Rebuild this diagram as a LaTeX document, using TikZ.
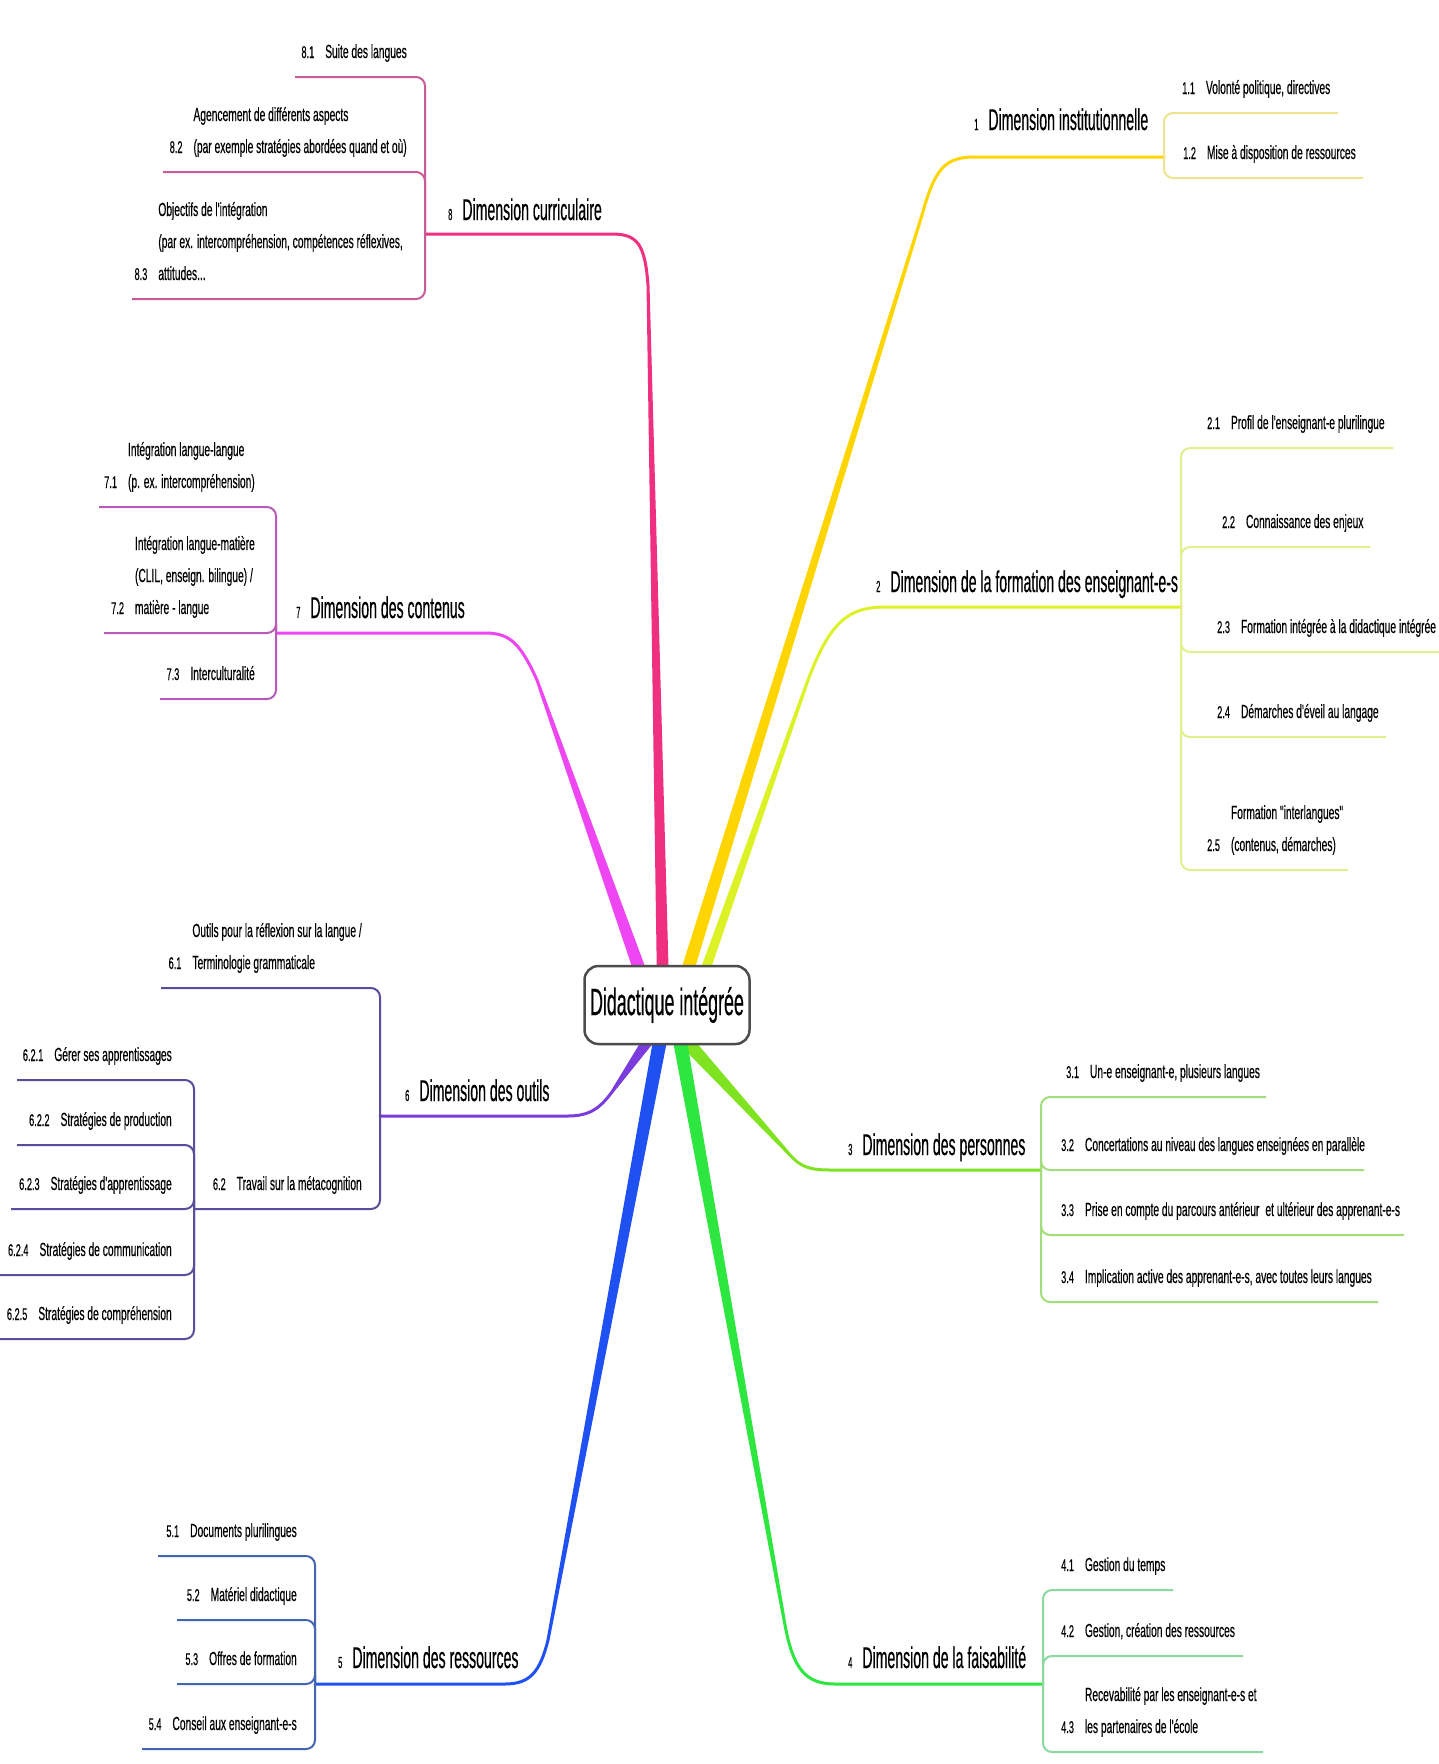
\documentclass[tikz,border=0pt]{standalone}
\usepackage{fontspec}
\setmainfont{Liberation Sans}
\newfontfamily\mainf[FakeStretch=0.47,FakeBold=0.4]{Liberation Sans}
\newfontfamily\subf[FakeStretch=0.54,FakeBold=0.3]{Liberation Sans}
\usetikzlibrary{calc}
\definecolor{c8}{HTML}{EF2F80}
\definecolor{c1}{HTML}{FFD500}
\definecolor{c2}{HTML}{DDF226}
\definecolor{c3}{HTML}{80E322}
\definecolor{c4}{HTML}{2DE640}
\definecolor{c5}{HTML}{1F50F2}
\definecolor{c6}{HTML}{7A3CDD}
\definecolor{c7}{HTML}{EE46F2}
\definecolor{l8}{HTML}{C95B97}
\definecolor{l1}{HTML}{EFE38E}
\definecolor{l2}{HTML}{E2EF8C}
\definecolor{l3}{HTML}{A2DF7A}
\definecolor{l4}{HTML}{8BD9A0}
\definecolor{l5}{HTML}{4466B2}
\definecolor{l6}{HTML}{5A4E9C}
\definecolor{l7}{HTML}{B65BB8}
\newcommand\taper[5]{\fill[#1] ($(#2)!#4!90:(#3)$) -- ($(#3)!#5!-90:(#2)$) -- ($(#3)!#5!90:(#2)$) -- ($(#2)!#4!-90:(#3)$) -- cycle;}
\newcommand\itm[1]{\begin{tabular}[b]{@{}l@{\hspace{11pt}}l@{}}#1\end{tabular}}
\newcommand\snum[1]{{\fontsize{17}{17}\selectfont #1}}
\newcommand\mnum[1]{{\fontsize{16}{16}\selectfont #1}\hspace{10pt}}
\tikzset{
  mainlab/.style={anchor=base west, inner sep=0pt, font=\mainf\fontsize{30}{32}\selectfont},
  subR/.style={anchor=base west, inner sep=0pt, font=\subf\fontsize{19}{32}\selectfont},
  subL/.style={anchor=base east, inner sep=0pt, font=\subf\fontsize{19}{32}\selectfont},
  subline/.style={line width=2pt, rounded corners=9pt},
  mainline/.style={line width=3pt, line cap=round},
  centre/.style={draw=black!70, line width=2.5pt, fill=white, rounded corners=14pt,
    minimum width=165pt, minimum height=78pt, inner sep=4pt,
    font=\mainf\fontsize{38}{40}\selectfont}
}
\begin{document}
\begin{tikzpicture}[x=1pt,y=-1pt]
\fill[white] (0,0) rectangle (1439,1764);
\useasboundingbox (0,0) rectangle (1439,1764);

% ---------- branch 8 ----------
\coordinate (a8) at (663,985); \coordinate (b8) at (648,285); \coordinate (j8) at (425,234);
\taper{c8}{a8}{b8}{6pt}{1.5pt}
\draw[mainline,c8] (b8) .. controls (645,245) and (638,234) .. (612,234) -- (j8);
\node[mainlab] (m8) at (448,220) {\mnum{8}Dimension curriculaire};
\coordinate (e81) at (295,77); \coordinate (e82) at (163,172); \coordinate (e83) at (132,299);
\draw[subline,l8] (j8) |- (e81); \draw[subline,l8] (j8) |- (e82); \draw[subline,l8] (j8) |- (e83);
\node[subL] (n81) at (407,58) {\itm{\snum{8.1} & Suite des langues}};
\node[subL] (n82) at (407,153) {\itm{ & Agencement de différents aspects\\ \snum{8.2} & (par exemple stratégies abordées quand et où)}};
\node[subL] (n83) at (403,280) {\itm{ & Objectifs de l'intégration\\ & (par ex. intercompréhension, compétences réflexives,\\ \snum{8.3} & attitudes...}};

% ---------- branch 1 ----------
\coordinate (a1) at (683,985); \coordinate (b1) at (922,215); \coordinate (j1) at (1164,157);
\taper{c1}{a1}{b1}{6.5pt}{1.5pt}
\draw[mainline,c1] (b1) .. controls (935,168) and (945,157) .. (975,157) -- (j1);
\node[mainlab] (m1) at (974,130) {\mnum{1}Dimension institutionnelle};
\coordinate (e11) at (1338,113); \coordinate (e12) at (1363,178);
\draw[subline,l1] (j1) |- (e11); \draw[subline,l1] (j1) |- (e12);
\node[subR] (n11) at (1182,94) {\itm{\snum{1.1} & Volonté politique, directives}};
\node[subR] (n12) at (1183,159) {\itm{\snum{1.2} & Mise à disposition de ressources}};

% ---------- branch 2 ----------
\coordinate (a2) at (700,985); \coordinate (b2) at (808,680); \coordinate (j2) at (1181,607);
\taper{c2}{a2}{b2}{5pt}{1.5pt}
\draw[mainline,c2] (b2) .. controls (830,622) and (848,607) .. (885,607) -- (j2);
\node[mainlab] (m2) at (876,592) {\mnum{2}Dimension de la formation des enseignant-e-s};
\coordinate (e21) at (1393,448); \coordinate (e22) at (1370,547); \coordinate (e23) at (1439,652);
\coordinate (e24) at (1386,737); \coordinate (e25) at (1348,870);
\foreach \e in {e21,e22,e23,e24,e25} \draw[subline,l2] (j2) |- (\e);
\node[subR] (n21) at (1207,429) {\itm{\snum{2.1} & Profil de l'enseignant-e plurilingue}};
\node[subR] (n22) at (1222,528) {\itm{\snum{2.2} & Connaissance des enjeux}};
\node[subR] (n23) at (1217,633) {\itm{\snum{2.3} & Formation intégrée à la didactique intégrée}};
\node[subR] (n24) at (1217,718) {\itm{\snum{2.4} & Démarches d'éveil au langage}};
\node[subR] (n25) at (1207,851) {\itm{ & Formation "interlangues"\\ \snum{2.5} & (contenus, démarches)}};

% ---------- branch 7 ----------
\coordinate (a7) at (645,985); \coordinate (b7) at (537,680); \coordinate (j7) at (276,633);
\taper{c7}{a7}{b7}{6.5pt}{1.5pt}
\draw[mainline,c7] (b7) .. controls (520,643) and (510,633) .. (485,633) -- (j7);
\node[mainlab] (m7) at (296,618) {\mnum{7}Dimension des contenus};
\coordinate (e71) at (99,507); \coordinate (e72) at (104,633); \coordinate (e73) at (160,699);
\draw[subline,l7] (j7) |- (e71); \draw[subline,l7] (j7) |- (e72); \draw[subline,l7] (j7) |- (e73);
\node[subL] (n71) at (255,488) {\itm{ & Intégration langue-langue\\ \snum{7.1} & (p. ex. intercompréhension)}};
\node[subL] (n72) at (255,614) {\itm{ & Intégration langue-matière\\ & (CLIL, enseign. bilingue) /\\ \snum{7.2} & matière - langue}};
\node[subL] (n73) at (255,680) {\itm{\snum{7.3} & Interculturalité}};

% ---------- branch 3 ----------
\coordinate (a3) at (685,1040); \coordinate (b3) at (790,1155); \coordinate (j3) at (1041,1170);
\taper{c3}{a3}{b3}{7pt}{1.5pt}
\draw[mainline,c3] (b3) .. controls (800,1166) and (808,1170) .. (830,1170) -- (j3);
\node[mainlab] (m3) at (848,1155) {\mnum{3}Dimension des personnes};
\coordinate (e31) at (1266,1097); \coordinate (e32) at (1364,1170); \coordinate (e33) at (1404,1235); \coordinate (e34) at (1378,1302);
\foreach \e in {e31,e32,e33,e34} \draw[subline,l3] (j3) |- (\e);
\node[subR] (n31) at (1066,1078) {\itm{\snum{3.1} & Un-e enseignant-e, plusieurs langues}};
\node[subR] (n32) at (1061,1151) {\itm{\snum{3.2} & Concertations au niveau des langues enseignées en parallèle}};
\node[subR] (n33) at (1061,1216) {\itm{\snum{3.3} & Prise en compte du parcours antérieur\, et ultérieur des apprenant-e-s}};
\node[subR] (n34) at (1061,1283) {\itm{\snum{3.4} & Implication active des apprenant-e-s, avec toutes leurs langues}};

% ---------- branch 4 ----------
\coordinate (a4) at (678,1030); \coordinate (b4) at (785,1625); \coordinate (j4) at (1043,1684);
\taper{c4}{a4}{b4}{7pt}{1.5pt}
\draw[mainline,c4] (b4) .. controls (793,1668) and (805,1684) .. (835,1684) -- (j4);
\node[mainlab] (m4) at (848,1668) {\mnum{4}Dimension de la faisabilité};
\coordinate (e41) at (1173,1590); \coordinate (e42) at (1243,1656); \coordinate (e43) at (1263,1752);
\foreach \e in {e41,e42,e43} \draw[subline,l4] (j4) |- (\e);
\node[subR] (n41) at (1061,1571) {\itm{\snum{4.1} & Gestion du temps}};
\node[subR] (n42) at (1061,1637) {\itm{\snum{4.2} & Gestion, création des ressources}};
\node[subR] (n43) at (1061,1733) {\itm{ & Recevabilité par les enseignant-e-s et\\ \snum{4.3} & les partenaires de l'école}};

% ---------- branch 5 ----------
\coordinate (a5) at (662,1030); \coordinate (b5) at (548,1640); \coordinate (j5) at (315,1684);
\taper{c5}{a5}{b5}{7pt}{1.5pt}
\draw[mainline,c5] (b5) .. controls (540,1672) and (530,1684) .. (505,1684) -- (j5);
\node[mainlab] (m5) at (338,1668) {\mnum{5}Dimension des ressources};
\coordinate (e51) at (158,1556); \coordinate (e52) at (177,1620); \coordinate (e53) at (177,1684); \coordinate (e54) at (142,1749);
\foreach \e in {e51,e52,e53,e54} \draw[subline,l5] (j5) |- (\e);
\node[subL] (n51) at (297,1537) {\itm{\snum{5.1} & Documents plurilingues}};
\node[subL] (n52) at (297,1601) {\itm{\snum{5.2} & Matériel didactique}};
\node[subL] (n53) at (297,1665) {\itm{\snum{5.3} & Offres de formation}};
\node[subL] (n54) at (297,1730) {\itm{\snum{5.4} & Conseil aux enseignant-e-s}};

% ---------- branch 6 ----------
\coordinate (a6) at (652,1035); \coordinate (b6) at (612,1092); \coordinate (j6) at (380,1116);
\taper{c6}{a6}{b6}{6pt}{1.5pt}
\draw[mainline,c6] (b6) .. controls (600,1108) and (590,1116) .. (568,1116) -- (j6);
\node[mainlab] (m6) at (405,1101) {\mnum{6}Dimension des outils};
\coordinate (e61) at (161,988); \coordinate (j62) at (194,1209);
\draw[subline,l6] (j6) |- (e61); \draw[subline,l6] (j6) |- (j62);
\node[subL] (n61) at (362,969) {\itm{ & Outils pour la réflexion sur la langue /\\ \snum{6.1} & Terminologie grammaticale}};
\node[subL] (n62) at (362,1190) {\itm{\snum{6.2} & Travail sur la métacognition}};
\coordinate (e621) at (17,1080); \coordinate (e622) at (17,1145); \coordinate (e623) at (11,1209);
\coordinate (e624) at (0,1275); \coordinate (e625) at (0,1339);
\foreach \e in {e621,e622,e623,e624,e625} \draw[subline,l6] (j62) |- (\e);
\node[subL] (n621) at (172,1061) {\itm{\snum{6.2.1} & Gérer ses apprentissages}};
\node[subL] (n622) at (172,1126) {\itm{\snum{6.2.2} & Stratégies de production}};
\node[subL] (n623) at (172,1190) {\itm{\snum{6.2.3} & Stratégies d'apprentissage}};
\node[subL] (n624) at (172,1256) {\itm{\snum{6.2.4} & Stratégies de communication}};
\node[subL] (n625) at (172,1320) {\itm{\snum{6.2.5} & Stratégies de compréhension}};

% ---------- centre ----------
\node[centre] (c) at (667,1005) {Didactique intégrée};
\end{tikzpicture}
\end{document}
